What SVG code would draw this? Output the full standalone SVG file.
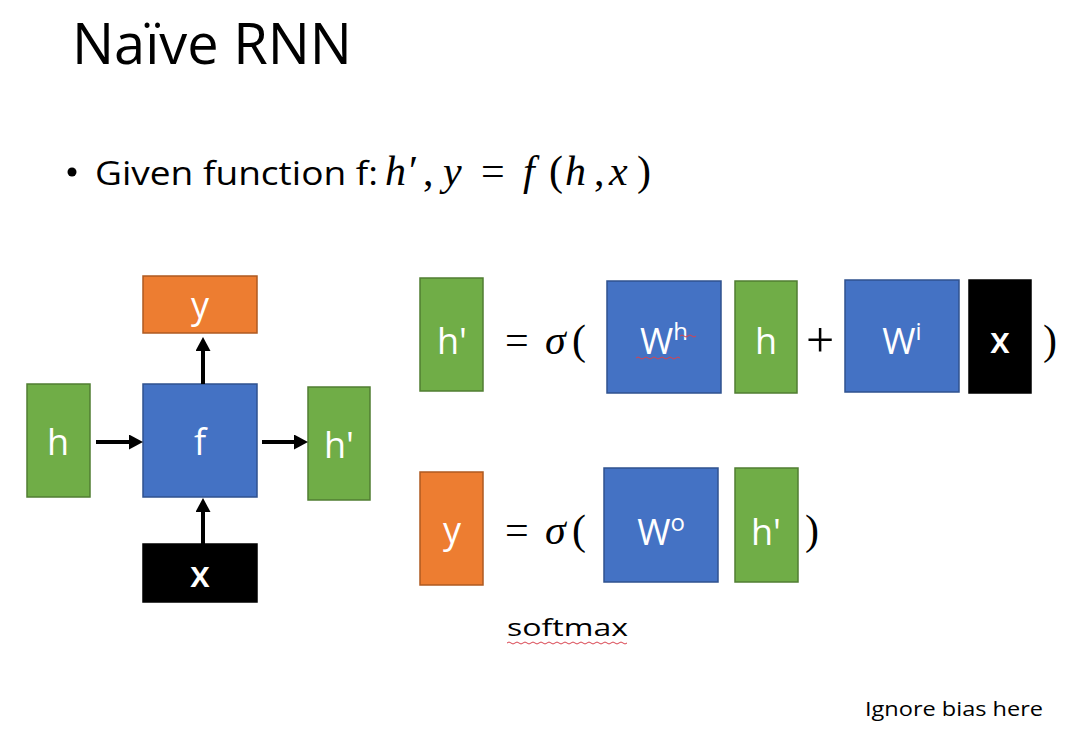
<svg xmlns="http://www.w3.org/2000/svg" width="1080" height="734" viewBox="0 0 1080 734">
<style>
.t{font-family:"Open Sans","Liberation Sans",sans-serif;fill:#000}
.bt{font-family:"Open Sans","Liberation Sans",sans-serif;fill:#fff;font-size:36px;text-anchor:middle}
.m{font-family:"Liberation Serif","DejaVu Serif",serif;fill:#000}
.i{font-style:italic}
.g{fill:#70AD47;stroke:#507E32;stroke-width:1.5}
.b{fill:#4472C4;stroke:#2F528F;stroke-width:1.5}
.o{fill:#ED7D31;stroke:#AE5A21;stroke-width:1.5}
.k{fill:#000;stroke:#000;stroke-width:1.5}
.c{stroke:#000;stroke-width:4;fill:none;marker-end:url(#ah)}
.sq{fill:none;stroke:#d9434f;stroke-width:1}
</style>
<defs>
<marker id="ah" viewBox="0 0 14 15" refX="0" refY="7.5" markerWidth="14" markerHeight="15" markerUnits="userSpaceOnUse" orient="auto">
<path d="M0,0 L14,7.5 L0,15 z" fill="#000"/>
</marker>
</defs>
<rect width="1080" height="734" fill="#fff"/>
<text class="t" x="72" y="64" font-size="56" textLength="280" lengthAdjust="spacingAndGlyphs">Naïve RNN</text>
<circle cx="72" cy="172" r="4.5" fill="#000"/>
<text class="t" x="95" y="185" font-size="32" textLength="283" lengthAdjust="spacingAndGlyphs">Given function f:</text>
<text class="m" y="185" font-size="42"><tspan class="i" x="385">h</tspan><tspan x="409">′</tspan><tspan x="423">,</tspan><tspan class="i" x="443">y</tspan><tspan x="481">=</tspan><tspan class="i" x="523">f</tspan><tspan x="549">(</tspan><tspan class="i" x="565">h</tspan><tspan x="594">,</tspan><tspan class="i" x="609">x</tspan><tspan x="637">)</tspan></text>
<g id="left-y"><rect class="o" x="143" y="276" width="114" height="57"/><text class="bt" x="200" y="318">y</text></g>
<g id="left-h"><rect class="g" x="27" y="384" width="63" height="113"/><text class="bt" x="58" y="455">h</text></g>
<g id="left-f"><rect class="b" x="143" y="384" width="114" height="113"/><text class="bt" x="200" y="455">f</text></g>
<g id="left-hp"><rect class="g" x="308" y="387" width="62" height="113"/><text class="bt" x="339" y="458">h'</text></g>
<g id="left-x"><rect class="k" x="143" y="544" width="114" height="58"/><text class="bt" x="200" y="587" font-weight="600">x</text></g>
<g id="connectors">
<line class="c" x1="96" y1="442" x2="129" y2="442"/>
<line class="c" x1="262" y1="442" x2="294" y2="442"/>
<line class="c" x1="203" y1="384" x2="203" y2="351"/>
<line class="c" x1="203" y1="544" x2="203" y2="512"/>
</g>
<g id="eq1-hp"><rect class="g" x="420" y="278" width="63" height="113"/><text class="bt" x="452" y="354">h'</text></g>
<text class="m" y="354" font-size="42"><tspan x="505">=</tspan><tspan class="i" x="545">σ</tspan><tspan x="572">(</tspan></text>
<g id="eq1-Wh"><rect class="b" x="607" y="281" width="114" height="112"/><text class="bt" x="664" y="354">W<tspan font-size="24" dy="-14">h</tspan></text>
<path class="sq" d="M636,358 q2,-2 4,0 t4,0 t4,0 t4,0 t4,0 t4,0 t4,0 t4,0 t4,0 t4,0 t4,0 M680,336 q2,-2 4,0 t4,0 t4,0 t4,0"/></g>
<g id="eq1-h"><rect class="g" x="735" y="281" width="62" height="112"/><text class="bt" x="766" y="354">h</text></g>
<text class="m" x="820" y="357" font-size="50" text-anchor="middle">+</text>
<g id="eq1-Wi"><rect class="b" x="845" y="280" width="114" height="112"/><text class="bt" x="902" y="354">W<tspan font-size="24" dy="-14">i</tspan></text></g>
<g id="eq1-x"><rect class="k" x="969" y="280" width="62" height="113"/><text class="bt" x="1000" y="353" font-weight="600">x</text></g>
<text class="m" x="1043" y="354" font-size="42">)</text>
<g id="eq2-y"><rect class="o" x="420" y="472" width="63" height="113"/><text class="bt" x="452" y="543">y</text></g>
<text class="m" y="544" font-size="42"><tspan x="505">=</tspan><tspan class="i" x="545">σ</tspan><tspan x="572">(</tspan></text>
<g id="eq2-Wo"><rect class="b" x="604" y="468" width="114" height="114"/><text class="bt" x="661" y="545">W<tspan font-size="24" dy="-14">o</tspan></text></g>
<g id="eq2-hp"><rect class="g" x="735" y="468" width="63" height="114"/><text class="bt" x="766" y="545">h'</text></g>
<text class="m" x="805" y="544" font-size="42">)</text>
<text class="t" x="507" y="636" font-size="24" textLength="121" lengthAdjust="spacingAndGlyphs">softmax</text>
<path class="sq" d="M507,643 q2,-2 4,0 t4,0 t4,0 t4,0 t4,0 t4,0 t4,0 t4,0 t4,0 t4,0 t4,0 t4,0 t4,0 t4,0 t4,0 t4,0 t4,0 t4,0 t4,0 t4,0 t4,0 t4,0 t4,0 t4,0 t4,0 t4,0 t4,0 t4,0 t4,0 t4,0"/>
<text class="t" x="865" y="716" font-size="20" textLength="178" lengthAdjust="spacingAndGlyphs">Ignore bias here</text>
</svg>
